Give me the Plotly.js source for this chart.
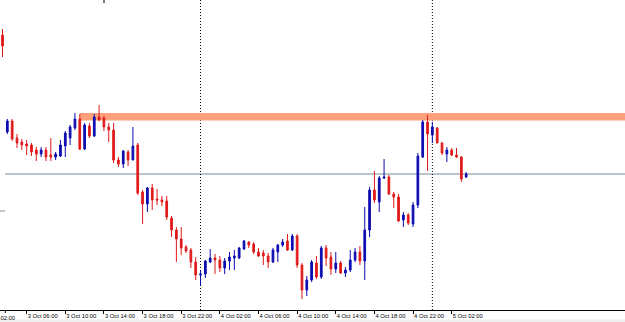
<!DOCTYPE html>
<html>
<head>
<meta charset="utf-8">
<script src="https://cdn.plot.ly/plotly-3.0.1.min.js"></script>
<style>html,body{margin:0;padding:0;background:#fff;}#chart{width:625px;height:322px;}</style>
</head>
<body>
<div id="chart"></div>
<script>
const times = [
"2016-10-03 03:30","2016-10-03 04:00","2016-10-03 04:30","2016-10-03 05:00","2016-10-03 05:30","2016-10-03 06:00","2016-10-03 06:30","2016-10-03 07:00","2016-10-03 07:30","2016-10-03 08:00",
"2016-10-03 08:30","2016-10-03 09:00","2016-10-03 09:30","2016-10-03 10:00","2016-10-03 10:30","2016-10-03 11:00","2016-10-03 11:30","2016-10-03 12:00","2016-10-03 12:30","2016-10-03 13:00",
"2016-10-03 13:30","2016-10-03 14:00","2016-10-03 14:30","2016-10-03 15:00","2016-10-03 15:30","2016-10-03 16:00","2016-10-03 16:30","2016-10-03 17:00","2016-10-03 17:30","2016-10-03 18:00",
"2016-10-03 18:30","2016-10-03 19:00","2016-10-03 19:30","2016-10-03 20:00","2016-10-03 20:30","2016-10-03 21:00","2016-10-03 21:30","2016-10-03 22:00","2016-10-03 22:30","2016-10-03 23:00",
"2016-10-03 23:30","2016-10-04 00:00","2016-10-04 00:30","2016-10-04 01:00","2016-10-04 01:30","2016-10-04 02:00","2016-10-04 02:30","2016-10-04 03:00","2016-10-04 03:30","2016-10-04 04:00",
"2016-10-04 04:30","2016-10-04 05:00","2016-10-04 05:30","2016-10-04 06:00","2016-10-04 06:30","2016-10-04 07:00","2016-10-04 07:30","2016-10-04 08:00","2016-10-04 08:30","2016-10-04 09:00",
"2016-10-04 09:30","2016-10-04 10:00","2016-10-04 10:30","2016-10-04 11:00","2016-10-04 11:30","2016-10-04 12:00","2016-10-04 12:30","2016-10-04 13:00","2016-10-04 13:30","2016-10-04 14:00",
"2016-10-04 14:30","2016-10-04 15:00","2016-10-04 15:30","2016-10-04 16:00","2016-10-04 16:30","2016-10-04 17:00","2016-10-04 17:30","2016-10-04 18:00","2016-10-04 18:30","2016-10-04 19:00",
"2016-10-04 19:30","2016-10-04 20:00","2016-10-04 20:30","2016-10-04 21:00","2016-10-04 21:30","2016-10-04 22:00","2016-10-04 22:30","2016-10-04 23:00","2016-10-04 23:30","2016-10-05 00:00",
"2016-10-05 00:30","2016-10-05 01:00","2016-10-05 01:30","2016-10-05 02:00","2016-10-05 02:30","2016-10-05 03:00","2016-10-05 03:30"
];
const openP = [1.2965,1.2868,1.2879,1.2862,1.2858,1.2856,1.2855,1.2850,1.2846,1.2850,
1.2845,1.2843,1.2844,1.2854,1.2862,1.2872,1.2881,1.2851,1.2874,1.2864,
1.2883,1.2882,1.2873,1.2870,1.2840,1.2836,1.2848,1.2840,1.2855,1.2808,
1.2796,1.2812,1.2801,1.2800,1.2799,1.2782,1.2770,1.2761,1.2753,1.2750,
1.2738,1.2725,1.2726,1.2738,1.2742,1.2740,1.2732,1.2739,1.2742,1.2742,
1.2751,1.2758,1.2756,1.2748,1.2747,1.2744,1.2738,1.2748,1.2755,1.2759,
1.2750,1.2764,1.2735,1.2710,1.2720,1.2737,1.2723,1.2752,1.2743,1.2731,
1.2737,1.2727,1.2730,1.2740,1.2748,1.2739,1.2770,1.2810,1.2798,1.2822,
1.2823,1.2806,1.2803,1.2780,1.2785,1.2776,1.2795,1.2843,1.2878,1.2865,
1.2872,1.2857,1.2846,1.2850,1.2845,1.2843,1.2823];
const highP = [1.2971,1.2881,1.2881,1.2866,1.2861,1.2860,1.2857,1.2853,1.2853,1.2853,
1.2862,1.2848,1.2860,1.2869,1.2875,1.2887,1.2886,1.2877,1.2877,1.2886,
1.2895,1.2884,1.2877,1.2877,1.2843,1.2850,1.2850,1.2873,1.2857,1.2810,
1.2813,1.2816,1.2811,1.2804,1.2804,1.2784,1.2773,1.2773,1.2755,1.2752,
1.2743,1.2730,1.2740,1.2751,1.2746,1.2744,1.2742,1.2748,1.2750,1.2753,
1.2760,1.2759,1.2758,1.2752,1.2750,1.2747,1.2752,1.2756,1.2761,1.2766,
1.2766,1.2766,1.2737,1.2724,1.2740,1.2744,1.2754,1.2755,1.2748,1.2748,
1.2739,1.2733,1.2750,1.2752,1.2754,1.2793,1.2813,1.2829,1.2824,1.2841,
1.2825,1.2808,1.2806,1.2788,1.2787,1.2798,1.2847,1.2880,1.2885,1.2878,
1.2873,1.2858,1.2853,1.2852,1.2852,1.2844,1.2828];
const lowP = [1.2943,1.2866,1.2859,1.2852,1.2850,1.2845,1.2844,1.2839,1.2843,1.2839,
1.2839,1.2840,1.2843,1.2843,1.2855,1.2870,1.2850,1.2850,1.2862,1.2863,
1.2879,1.2869,1.2858,1.2837,1.2833,1.2832,1.2834,1.2840,1.2805,1.2776,
1.2788,1.2790,1.2795,1.2794,1.2780,1.2763,1.2738,1.2745,1.2747,1.2732,
1.2720,1.2714,1.2722,1.2737,1.2726,1.2728,1.2726,1.2730,1.2730,1.2741,
1.2750,1.2752,1.2746,1.2743,1.2735,1.2732,1.2737,1.2738,1.2753,1.2749,
1.2749,1.2732,1.2701,1.2704,1.2718,1.2721,1.2721,1.2734,1.2725,1.2727,
1.2726,1.2723,1.2728,1.2738,1.2735,1.2720,1.2763,1.2797,1.2788,1.2821,
1.2805,1.2792,1.2778,1.2773,1.2775,1.2773,1.2792,1.2842,1.2829,1.2857,
1.2857,1.2845,1.2838,1.2844,1.2842,1.2818,1.2822];
const closeP = [1.2954,1.2879,1.2861,1.2857,1.2855,1.2854,1.2848,1.2846,1.2850,1.2843,
1.2843,1.2846,1.2855,1.2867,1.2873,1.2881,1.2851,1.2875,1.2864,1.2883,
1.2880,1.2873,1.2870,1.2840,1.2836,1.2849,1.2840,1.2854,1.2807,1.2796,
1.2812,1.2800,1.2800,1.2798,1.2783,1.2770,1.2761,1.2752,1.2749,1.2738,
1.2725,1.2726,1.2739,1.2742,1.2740,1.2732,1.2739,1.2743,1.2744,1.2752,
1.2759,1.2755,1.2748,1.2744,1.2744,1.2738,1.2750,1.2755,1.2758,1.2750,
1.2764,1.2735,1.2710,1.2720,1.2738,1.2723,1.2752,1.2742,1.2731,1.2737,
1.2727,1.2730,1.2740,1.2748,1.2739,1.2770,1.2810,1.2800,1.2822,1.2823,
1.2806,1.2803,1.2779,1.2785,1.2777,1.2795,1.2844,1.2878,1.2866,1.2873,
1.2857,1.2847,1.2850,1.2845,1.2843,1.2821,1.2826];

// time-axis labels (MT4 style, every 4 hours, only where bars exist)
const tickTimes = ["2016-10-03 06:00","2016-10-03 10:00","2016-10-03 14:00","2016-10-03 18:00","2016-10-03 22:00",
  "2016-10-04 02:00","2016-10-04 06:00","2016-10-04 10:00","2016-10-04 14:00","2016-10-04 18:00","2016-10-04 22:00",
  "2016-10-05 02:00"];
const cutLabel = "3 Oct 02:00";

// chart objects
const zoneTop = 1.2887, zoneBottom = 1.28795, zoneStart = "2016-10-03 11:30";
const hLineLevel = 1.2826;
const sideMarkLevel = 1.2789;
const daySeparators = ["2016-10-04 00:00", "2016-10-05 00:00"];

const bull = "#0c0cb0", bear = "#e01a1a";
const labelFont = {family: "Liberation Sans, Arial, sans-serif", size: 5.8, color: "#000"};

const trace = {
  type: "candlestick",
  x: times, open: openP, high: highP, low: lowP, close: closeP,
  increasing: {line: {color: bull, width: 1}, fillcolor: bull},
  decreasing: {line: {color: bear, width: 1}, fillcolor: bear},
  whiskerwidth: 0,
  hoverinfo: "skip",
  showlegend: false
};

const shapes = [
  {type: "rect", layer: "below", xref: "x", yref: "y", x0: zoneStart, x1: "2016-10-07 00:00",
   y0: zoneBottom, y1: zoneTop, fillcolor: "#ffa07a", line: {width: 0}},
  {type: "line", layer: "below", xref: "paper", yref: "y", x0: 0.008, x1: 1, y0: hLineLevel, y1: hLineLevel,
   line: {color: "#7a8a99", width: 1}},
  {type: "line", layer: "below", xref: "paper", yref: "y", x0: 0, x1: 0.008, y0: sideMarkLevel, y1: sideMarkLevel,
   line: {color: "#8a8a8a", width: 1}},
  {type: "rect", layer: "below", xref: "paper", yref: "paper", x0: 0, x1: 1, y0: -0.05, y1: -0.031,
   fillcolor: "#eeeeee", line: {width: 0}},
  {type: "line", layer: "above", xref: "paper", yref: "paper", x0: 0.1664, x1: 0.1664, y0: 0.99, y1: 1,
   line: {color: "#000", width: 1}},
  {type: "line", layer: "above", xref: "paper", yref: "paper", x0: 0.0085, x1: 0.0085, y0: 0, y1: -0.0097,
   line: {color: "#000", width: 1}}
];
daySeparators.forEach(function(t){
  shapes.push({type: "line", layer: "below", xref: "x", yref: "paper", x0: t, x1: t, y0: 0, y1: 1,
    line: {color: "#000", width: 1, dash: "1px,2px"}});
});

const layout = {
  width: 625, height: 322,
  margin: {l: 0, r: 0, t: 0, b: 12, pad: 0},
  paper_bgcolor: "#fff", plot_bgcolor: "#fff",
  showlegend: false,
  boxgap: 0.5,
  xaxis: {
    type: "date",
    range: ["2016-10-03 03:14:28", "2016-10-05 19:56:30"],
    rangeslider: {visible: false},
    tickmode: "array", tickvals: tickTimes,
    tickformat: "%-d %b %H:%M",
    tickangle: 0,
    ticklabelposition: "outside right",
    ticklabeloverflow: "allow",
    ticks: "outside", ticklen: 3, tickcolor: "#000", tickwidth: 1,
    showline: true, linecolor: "#000", linewidth: 1,
    showgrid: false, zeroline: false,
    automargin: false,
    tickfont: labelFont,
    fixedrange: true
  },
  yaxis: {
    range: [1.2690, 1.3000],
    visible: false, showgrid: false, zeroline: false, fixedrange: true
  },
  annotations: [
    {text: cutLabel, xref: "paper", yref: "paper", x: -0.027, y: -0.0097, xanchor: "left", yanchor: "top",
     showarrow: false, font: labelFont}
  ],
  shapes: shapes
};

Plotly.newPlot("chart", [trace], layout, {displayModeBar: false, staticPlot: true});
</script>
</body>
</html>
